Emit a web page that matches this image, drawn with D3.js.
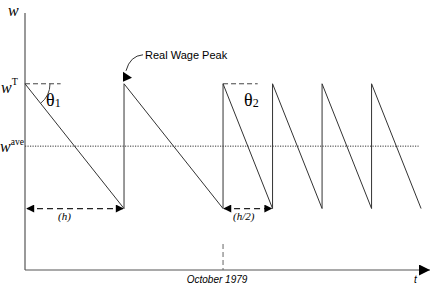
<!DOCTYPE html>
<html><head><meta charset="utf-8">
<script src="https://cdn.jsdelivr.net/npm/d3@7/dist/d3.min.js"></script>
<style>body{margin:0;background:#fff}svg{display:block}
.serif{font-family:"Liberation Serif","Tinos","DejaVu Serif",serif}
.sans{font-family:"Liberation Sans","Arimo",Arial,sans-serif}
</style>
</head><body>
<script>
// Data (time in units, h = 2; wage normalized, w^T = 1)
const sawT = [0, 2, 2, 4, 4, 5, 5, 6, 6, 7, 7, 8];
const sawW = [1, 0.33, 1, 0.33, 1, 0.33, 1, 0.33, 1, 0.33, 1, 0.33];
const wT = 1, wAve = 0.665, wLow = 0.33;
const h = 2;
const octoberT = 4;
const labels = {peak: "Real Wage Peak", date: "October 1979", h: "(h)", h2: "(h/2)"};

const W = 431, H = 288;
const svg = d3.select("body").append("svg").attr("width", W).attr("height", H);
const x = d3.scaleLinear().domain([0, 8.18]).range([25, 430]);
const y = d3.scaleLinear().domain([0, 1.38]).range([270, 13]);

const defs = svg.append("defs");
defs.append("marker").attr("id", "ah").attr("viewBox", "0 0 10 10").attr("refX", 9).attr("refY", 5)
  .attr("markerWidth", 10).attr("markerHeight", 8).attr("markerUnits", "userSpaceOnUse").attr("orient", "auto-start-reverse")
  .append("path").attr("d", "M0,0 L10,5 L0,10 Z").attr("fill", "#000");
defs.append("marker").attr("id", "ax").attr("viewBox", "0 0 10 10").attr("refX", 10).attr("refY", 5)
  .attr("markerWidth", 12).attr("markerHeight", 11).attr("markerUnits", "userSpaceOnUse").attr("orient", "auto")
  .append("path").attr("d", "M0,0 L10,5 L0,10 Z").attr("fill", "#000");

const lineCol = "#333";
// axes
svg.append("line").attr("x1", x(0)).attr("x2", x(0)).attr("y1", y(1.38)).attr("y2", y(0))
  .attr("stroke", "#555").attr("stroke-width", 1.2);
svg.append("line").attr("x1", x(0)).attr("x2", x(8.18)).attr("y1", y(0)).attr("y2", y(0))
  .attr("stroke", "#555").attr("stroke-width", 1.2).attr("marker-end", "url(#ax)");

// dotted average line
svg.append("line").attr("x1", x(0)).attr("x2", x(7.95)).attr("y1", y(wAve)).attr("y2", y(wAve))
  .attr("stroke", "#333").attr("stroke-width", 1).attr("stroke-dasharray", "1.2,1.3");

// dashed w^T reference lines
[[0, 0.72], [4, 4.7]].forEach(([a, b]) => {
  svg.append("line").attr("x1", x(a)).attr("x2", x(b)).attr("y1", y(wT)).attr("y2", y(wT))
    .attr("stroke", "#444").attr("stroke-width", 1).attr("stroke-dasharray", "5,3");
});

// sawtooth
const pts = sawT.map((t, i) => [t, sawW[i]]);
svg.append("path").datum(pts)
  .attr("d", d3.line().x(d => x(d[0])).y(d => y(d[1])))
  .attr("fill", "none").attr("stroke", lineCol).attr("stroke-width", 1);

// theta1 arc
const ang = Math.atan2(y(wLow) - y(wT), x(h) - x(0));
const r = 25;
svg.append("path")
  .attr("d", `M${x(0) + r},${y(wT)} A${r},${r} 0 0 1 ${x(0) + r * Math.cos(ang)},${y(wT) + r * Math.sin(ang)}`)
  .attr("fill", "none").attr("stroke", "#444").attr("stroke-width", 1);

// h arrows
svg.append("line").attr("x1", x(0) + 2).attr("x2", x(h) - 1).attr("y1", y(wLow)).attr("y2", y(wLow))
  .attr("stroke", "#222").attr("stroke-width", 1.2).attr("stroke-dasharray", "6,4")
  .attr("marker-start", "url(#ah)").attr("marker-end", "url(#ah)");
svg.append("line").attr("x1", x(4) + 1).attr("x2", x(5) - 1).attr("y1", y(wLow)).attr("y2", y(wLow))
  .attr("stroke", "#222").attr("stroke-width", 1.2).attr("stroke-dasharray", "6,4")
  .attr("marker-start", "url(#ah)").attr("marker-end", "url(#ah)");

// October 1979 vertical dashed
svg.append("line").attr("x1", x(octoberT)).attr("x2", x(octoberT)).attr("y1", y(0) - 26).attr("y2", y(0))
  .attr("stroke", "#666").attr("stroke-width", 1).attr("stroke-dasharray", "5,3");

// Real wage peak arrow
const px = x(h), py = y(wT);
svg.append("path").attr("d", `M${px + 19},${py - 29} Q${px + 6},${py - 28} ${px + 2},${py - 13}`)
  .attr("fill", "none").attr("stroke", "#333").attr("stroke-width", 1);
svg.append("path").attr("d", `M${px - 1},${py - 12} L${px - 1},${py - 2} L${px + 8},${py - 6} Z`).attr("fill", "#000");

// texts
svg.append("text").attr("class", "serif").attr("x", 8).attr("y", 16).attr("font-style", "italic")
  .attr("font-size", 16).text("w");
const tw = svg.append("text").attr("class", "serif").attr("x", 1).attr("y", 93).attr("font-size", 16);
tw.append("tspan").attr("font-style", "italic").text("w");
tw.append("tspan").attr("font-size", 10).attr("dy", -8).text("T");
const ta = svg.append("text").attr("class", "serif").attr("x", 0).attr("y", 152).attr("font-size", 16);
ta.append("tspan").attr("font-style", "italic").text("w");
ta.append("tspan").attr("font-size", 9.5).attr("dy", -7).text("ave");
const th1 = svg.append("text").attr("class", "serif").attr("x", 46).attr("y", 106).attr("font-size", 18);
th1.append("tspan").text("θ");
th1.append("tspan").attr("font-size", 12).attr("dy", 1).text("1");
const th2 = svg.append("text").attr("class", "serif").attr("x", 244).attr("y", 106).attr("font-size", 18);
th2.append("tspan").text("θ");
th2.append("tspan").attr("font-size", 12).attr("dy", 1).text("2");

svg.append("text").attr("class", "sans").attr("x", px + 21).attr("y", py - 25).attr("font-size", 11)
  .text(labels.peak);
svg.append("text").attr("class", "serif").attr("x", x(h / 2) - 10).attr("y", 220).attr("text-anchor", "middle")
  .attr("font-style", "italic").attr("font-size", 11).text(labels.h);
svg.append("text").attr("class", "serif").attr("x", x(4.5) - 4).attr("y", 220).attr("text-anchor", "middle")
  .attr("font-style", "italic").attr("font-size", 11).text(labels.h2);
svg.append("text").attr("class", "sans").attr("x", x(octoberT) - 6).attr("y", 283).attr("text-anchor", "middle")
  .attr("font-style", "italic").attr("font-size", 10).text(labels.date);
svg.append("text").attr("class", "sans").attr("x", 414).attr("y", 283)
  .attr("font-style", "italic").attr("font-size", 10).text("t");
</script>
</body></html>
